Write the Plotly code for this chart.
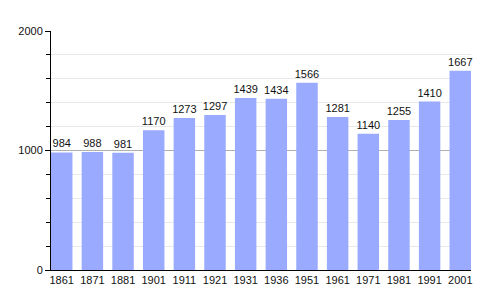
import plotly.graph_objects as go

years = ["1861", "1871", "1881", "1901", "1911", "1921", "1931", "1936",
         "1951", "1961", "1971", "1981", "1991", "2001"]
population = [984, 988, 981, 1170, 1273, 1297, 1439, 1434,
              1566, 1281, 1140, 1255, 1410, 1667]

fig = go.Figure(go.Bar(
    x=years, y=population,
    marker=dict(color="#99aaff", line=dict(width=0)),
    text=[str(v) for v in population],
    textposition="outside",
    constraintext="none",
    cliponaxis=False,
    textfont=dict(size=11, color="#111", family="Liberation Sans"),
))

fig.update_layout(
    width=500, height=300,
    margin=dict(l=51, r=29, t=31, b=30),
    paper_bgcolor="white", plot_bgcolor="white",
    bargap=0.3,
    showlegend=False,
    font=dict(family="Liberation Sans", size=11, color="#111"),
    xaxis=dict(
        type="category", range=[-0.35, 13.35],
        showline=True, linecolor="black", linewidth=1,
        ticks="", showgrid=False, tickfont=dict(size=11),
    ),
    yaxis=dict(
        range=[0, 2000], tickvals=[0, 1000, 2000],
        showline=True, linecolor="black", linewidth=1,
        ticks="outside", ticklen=5, tickcolor="black",
        showgrid=True, gridcolor="#b0b0b0", gridwidth=1,
        zeroline=False, tickfont=dict(size=11),
        minor=dict(dtick=200, tick0=0, showgrid=True, gridcolor="#e8e8e8",
                   ticks="outside", ticklen=4, tickcolor="black"),
    ),
)

fig.write_html("out.html")
